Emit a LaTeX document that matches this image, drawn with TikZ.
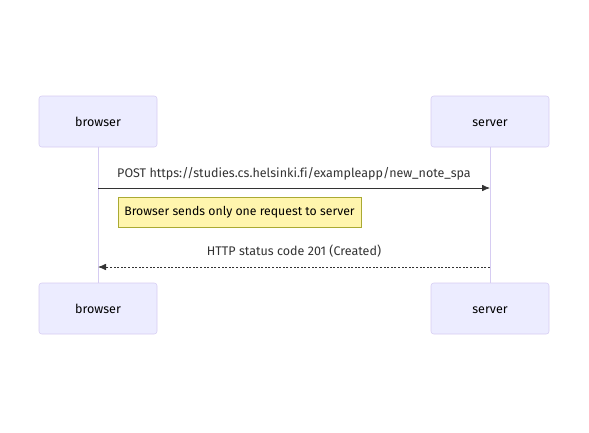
\documentclass[tikz,border=0pt]{standalone}
\usepackage{fontspec}
\setmainfont{Fira Sans}[Ligatures=CommonOff]
\usetikzlibrary{arrows.meta}
\definecolor{actorfill}{HTML}{ECECFF}
\definecolor{actorline}{HTML}{D6CCF2}
\definecolor{notefill}{HTML}{FFF5AD}
\definecolor{noteline}{HTML}{AAAA33}
\definecolor{msgline}{HTML}{333333}
\tikzset{
  actorbox/.style={draw=actorline, fill=actorfill, rounded corners=2pt,
    minimum width=88.5pt, minimum height=38.25pt, inner sep=0pt,
    text height=7pt, text depth=0pt,
    font=\fontsize{9.4}{12}\selectfont},
  notebox/.style={draw=noteline, fill=notefill, minimum width=182.25pt,
    minimum height=22.5pt, inner sep=0pt, font=\fontsize{9.2}{12}\selectfont},
  msglabel/.style={font=\fontsize{9.4}{12}\selectfont, text=msgline},
  lifeline/.style={draw=actorline, line width=0.7pt},
  msg/.style={draw=msgline, line width=0.6pt, -{Latex[length=6pt,width=5pt]}}
}
\begin{document}
\begin{tikzpicture}[x=0.75pt,y=-0.75pt]
  \useasboundingbox (0,0) rectangle (589,432);
  % actors
  \node[actorbox] (browsertop) at (98,121.5) {browser};
  \node[actorbox] (servertop) at (490,121.5) {server};
  \node[actorbox] (browserbot) at (98,308.5) {browser};
  \node[actorbox] (serverbot) at (490,308.5) {server};
  % lifelines
  \draw[lifeline] (browsertop) -- (browserbot);
  \draw[lifeline] (servertop) -- (serverbot);
  % messages
  \coordinate (postfrom) at (98,188);
  \coordinate (postto) at (490,188);
  \coordinate (ackfrom) at (490,267);
  \coordinate (ackto) at (98,267);
  \draw[msg] (postfrom) -- (postto)
    node[msglabel,midway,above=2.5pt] (postlabel) {POST https://studies.cs.helsinki.fi/exampleapp/new\_note\_spa};
  \node[notebox] (note) at (239.5,212) {Browser sends only one request to server};
  \draw[msg,dash pattern=on 1.5pt off 1.2pt] (ackfrom) -- (ackto)
    node[msglabel,midway,above=4pt] (acklabel) {HTTP status code 201 (Created)};
\end{tikzpicture}
\end{document}
